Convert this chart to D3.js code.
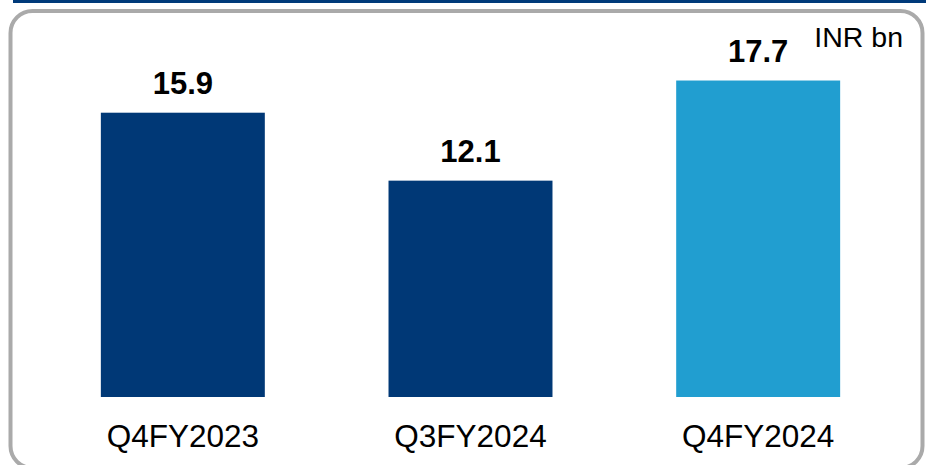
<!DOCTYPE html>
<html>
<head>
<meta charset="utf-8">
<script src="https://cdn.jsdelivr.net/npm/d3@7"></script>
<style>
  html, body { margin: 0; padding: 0; background: #fff; }
  svg { display: block; font-family: "Liberation Sans", Arial, sans-serif; }
</style>
</head>
<body>
<div id="chart"></div>
<script>
// data
const categories = ["Q4FY2023", "Q3FY2024", "Q4FY2024"];
const values = [15.9, 12.1, 17.7];
const barColors = ["#003876", "#003876", "#219ED0"];
const unitLabel = "INR bn";

const width = 926;
const height = 465;

const svg = d3.select("#chart")
  .append("svg")
  .attr("width", width)
  .attr("height", height);

// top navy rule
svg.append("rect")
  .attr("x", 13).attr("y", 0)
  .attr("width", width - 13).attr("height", 3)
  .attr("fill", "#003A7A");

// grey rounded frame (bottom runs off the picture)
svg.append("rect")
  .attr("x", 10.5).attr("y", 11)
  .attr("width", 912).attr("height", 457)
  .attr("rx", 22).attr("ry", 22)
  .attr("fill", "none")
  .attr("stroke", "#AAAAAA")
  .attr("stroke-width", 4);

const x = d3.scaleBand()
  .domain(categories)
  .range([39, 902])
  .paddingInner(0.43)
  .paddingOuter(0.215);

const y = d3.scaleLinear()
  .domain([0, 20])
  .range([397, 39.4]);

const data = categories.map((c, i) => ({ cat: c, value: values[i], color: barColors[i] }));

// bars
svg.append("g")
  .selectAll("rect")
  .data(data)
  .join("rect")
  .attr("x", d => x(d.cat))
  .attr("y", d => y(d.value))
  .attr("width", x.bandwidth())
  .attr("height", d => y(0) - y(d.value))
  .attr("fill", d => d.color);

// value labels
svg.append("g")
  .selectAll("text")
  .data(data)
  .join("text")
  .attr("x", d => x(d.cat) + x.bandwidth() / 2)
  .attr("y", d => y(d.value) - 19)
  .attr("text-anchor", "middle")
  .attr("font-size", "31px")
  .attr("font-weight", "bold")
  .attr("fill", "#000")
  .text(d => d.value.toFixed(1));

// category axis (no line, no ticks)
const xAxis = svg.append("g")
  .attr("transform", `translate(0,${y(0)})`)
  .call(d3.axisBottom(x).tickSize(0).tickPadding(0));
xAxis.select(".domain").remove();
xAxis.selectAll("text")
  .attr("dy", null)
  .attr("y", 50)
  .attr("font-size", "31.5px")
  .attr("font-family", "\"Liberation Sans\", Arial, sans-serif")
  .attr("fill", "#000");

// unit label
svg.append("text")
  .attr("x", 903)
  .attr("y", 47)
  .attr("text-anchor", "end")
  .attr("font-size", "28.5px")
  .attr("fill", "#000")
  .text(unitLabel);
</script>
</body>
</html>
